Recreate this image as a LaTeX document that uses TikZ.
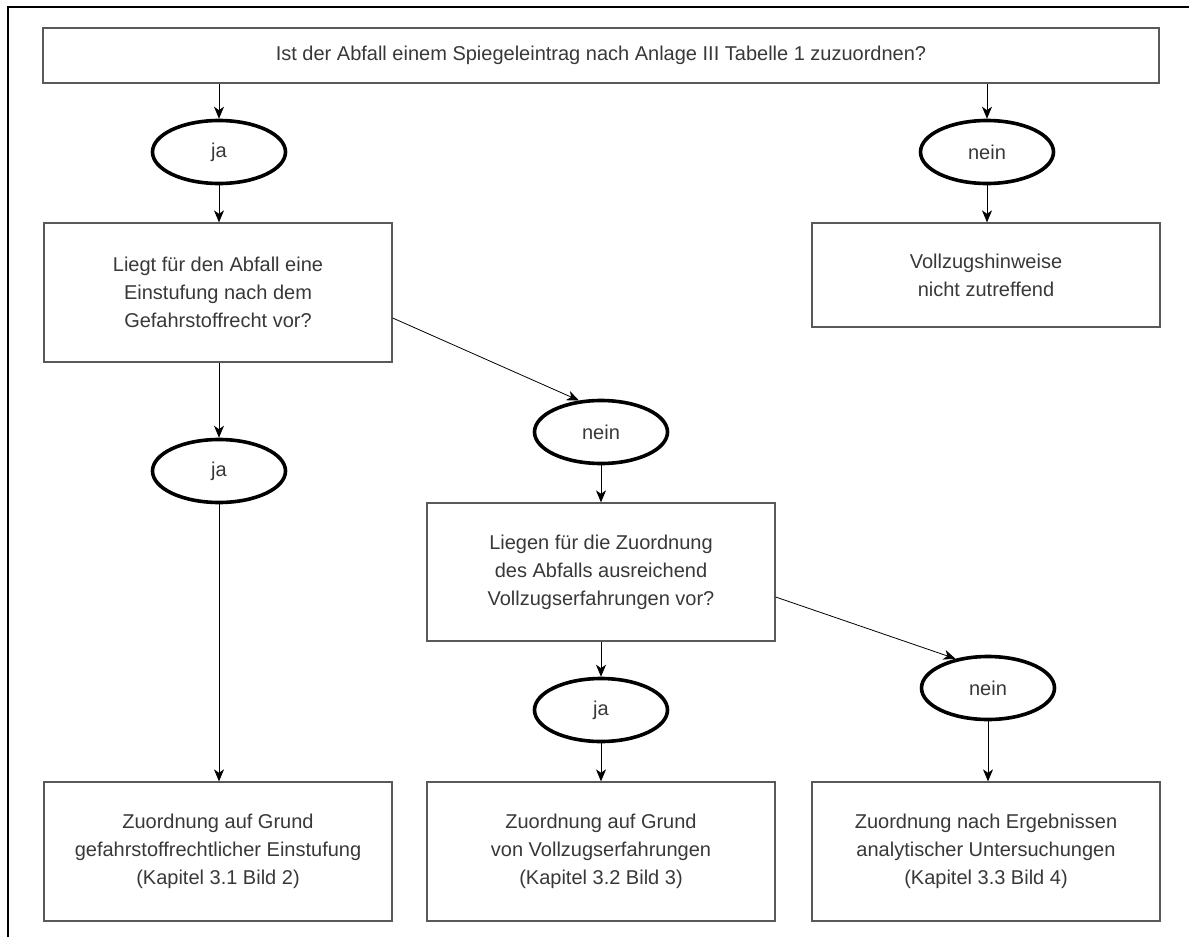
\documentclass[tikz,border=0pt]{standalone}
\usepackage{fontspec}
\setmainfont{Liberation Sans}
\usetikzlibrary{shapes.geometric,arrows.meta}
\tikzset{
  frage/.style={draw=black!65,line width=1.3pt,inner sep=0pt,align=center,text=black!78,
    minimum width=348pt,minimum height=138pt},
  antwort/.style={ellipse,draw,line width=3.6pt,inner sep=0pt,text=black!78,
    minimum width=133pt,minimum height=63pt},
  pfeil/.style={-{Stealth[length=12pt,width=10pt,inset=3.5pt]},line width=0.8pt}
}

\begin{document}
\begin{tikzpicture}[x=1pt,y=-1pt,every node/.style={font=\fontsize{20}{28}\selectfont}]
  \useasboundingbox (0,0) rectangle (1189,937);
  \draw[line width=1.4pt] (8,937) -- (8,7) -- (1189,7);

  % Frage oben
  \node[frage,minimum width=1116pt,minimum height=55pt] (spiegel) at (601,55.5)
    {Ist der Abfall einem Spiegeleintrag nach Anlage III Tabelle 1 zuzuordnen?};

  % linke Spalte
  \node[antwort] (ja1) at (219,152) {ja};
  \node[frage,minimum height=139pt] (einstufung) at (218,292.5)
    {Liegt für den Abfall eine\\Einstufung nach dem\\Gefahrstoffrecht vor?};
  \node[antwort] (ja2) at (219,471) {ja};
  \node[frage,minimum height=139pt] (zgefahr) at (218,851.5)
    {Zuordnung auf Grund\\gefahrstoffrechtlicher Einstufung\\(Kapitel 3.1 Bild 2)};

  % mittlere Spalte
  \node[antwort] (nein1) at (601,432) {nein};
  \node[frage] (erfahrung) at (601,572)
    {Liegen für die Zuordnung\\des Abfalls ausreichend\\Vollzugserfahrungen vor?};
  \node[antwort] (ja3) at (601,710) {ja};
  \node[frage,minimum height=139pt] (zvollzug) at (601,851.5)
    {Zuordnung auf Grund\\von Vollzugserfahrungen\\(Kapitel 3.2 Bild 3)};

  % rechte Spalte
  \node[antwort] (nein0) at (987,152) {nein};
  \node[frage,minimum height=104pt] (hinweise) at (986,275)
    {Vollzugshinweise\\nicht zutreffend};
  \node[antwort] (nein2) at (988,688) {nein};
  \node[frage,minimum height=139pt] (zanalyse) at (986,851.5)
    {Zuordnung nach Ergebnissen\\analytischer Untersuchungen\\(Kapitel 3.3 Bild 4)};

  % Pfeile
  \draw[pfeil] (ja1 |- spiegel.south) -- (ja1);
  \draw[pfeil] (nein0 |- spiegel.south) -- (nein0);
  \draw[pfeil] (ja1) -- (ja1 |- einstufung.north);
  \draw[pfeil] (nein0) -- (nein0 |- hinweise.north);
  \draw[pfeil] (ja2 |- einstufung.south) -- (ja2);
  \draw[pfeil] (ja2) -- (ja2 |- zgefahr.north);
  \draw[pfeil] ([yshift=-25.5pt]einstufung.east) -- (nein1.125);
  \draw[pfeil] (nein1) -- (erfahrung);
  \draw[pfeil] (erfahrung) -- (ja3);
  \draw[pfeil] (ja3) -- (zvollzug);
  \draw[pfeil] ([yshift=-25pt]erfahrung.east) -- (nein2.138);
  \draw[pfeil] (nein2) -- (nein2 |- zanalyse.north);
\end{tikzpicture}
\end{document}
